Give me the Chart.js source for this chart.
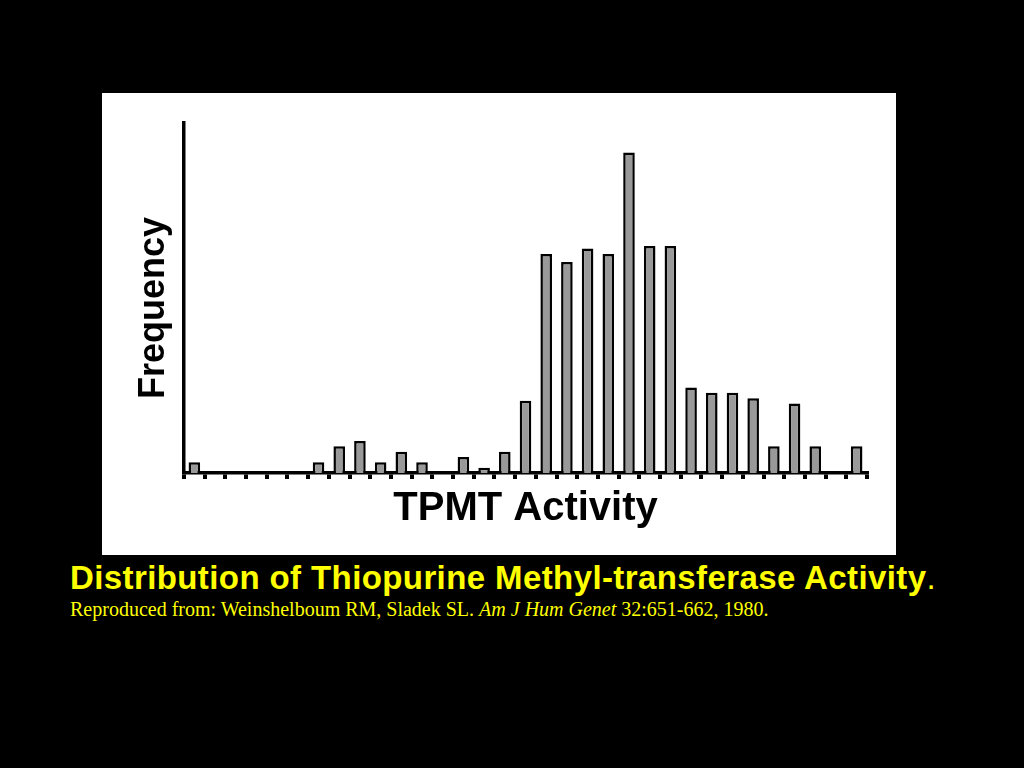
<!DOCTYPE html>
<html>
<head>
<meta charset="utf-8">
<title>TPMT Activity</title>
<script src="https://cdn.jsdelivr.net/npm/chart.js@4/dist/chart.umd.min.js"></script>
<style>
  html, body {
    margin: 0;
    padding: 0;
    background: #000;
    width: 1024px;
    height: 768px;
    overflow: hidden;
  }
  #panel {
    position: absolute;
    left: 102px;
    top: 93px;
    width: 794px;
    height: 462px;
    background: #fff;
  }
  #caption {
    position: absolute;
    left: 70px;
    top: 561px;
    color: #ffff00;
    font-family: "Liberation Sans", Arial, sans-serif;
    font-weight: bold;
    font-size: 33px;
    line-height: 33px;
    letter-spacing: 0.4px;
    white-space: nowrap;
  }
  #caption span {
    font-weight: normal;
  }
  #source {
    position: absolute;
    left: 70px;
    top: 599px;
    color: #ffff00;
    font-family: "Liberation Serif", "Times New Roman", serif;
    font-size: 20px;
    line-height: 20px;
    white-space: nowrap;
  }
</style>
</head>
<body>
<div id="panel">
  <canvas id="chart" width="794" height="462"></canvas>
</div>
<div id="caption">Distribution of Thiopurine Methyl-transferase Activity<span>.</span></div>
<div id="source">Reproduced from: Weinshelboum RM, Sladek SL. <i>Am J Hum Genet</i> 32:651-662, 1980.</div>

<script>
// histogram bins (activity classes, low -> high)
const activityBins = [
  "1", "2", "3", "4", "5", "6", "7", "8", "9", "10", "11",
  "12", "13", "14", "15", "16", "17", "18", "19", "20", "21", "22",
  "23", "24", "25", "26", "27", "28", "29", "30", "31", "32", "33"
];

// number of subjects per bin
const frequency = [
  2, 0, 0, 0, 0, 0, 2, 5, 6, 2, 4,
  2, 0, 3, 1, 4, 13.5, 41, 39.5, 42, 41, 60,
  42.5, 42.5, 16, 15, 15, 14, 5, 13, 5, 0, 5
];

const yMax = 65.5;

const ctx = document.getElementById("chart").getContext("2d");

new Chart(ctx, {
  type: "bar",
  data: {
    labels: activityBins,
    datasets: [
      {
        label: "Frequency",
        data: frequency,
        backgroundColor: "#999999",
        borderColor: "#000000",
        borderWidth: 2.5,
        barPercentage: 0.56,
        categoryPercentage: 1.0,
      },
    ],
  },
  options: {
    responsive: false,
    animation: false,
    layout: {
      padding: { left: 0, right: 29, top: 30, bottom: 0 },
    },
    plugins: {
      legend: { display: false },
      tooltip: { enabled: false },
    },
    scales: {
      x: {
        ticks: { display: false },
        grid: {
          display: true,
          drawOnChartArea: false,
          drawTicks: true,
          tickLength: 6,
          lineWidth: 4,
          color: "#000000",
        },
        border: { display: true, color: "#000000", width: 3.5 },
        title: {
          display: true,
          text: "TPMT Activity",
          color: "#000000",
          font: { family: "'Liberation Sans', Arial, sans-serif", size: 40, weight: "bold" },
          padding: { top: 0, bottom: 22 },
        },
        afterFit: (scale) => {
          scale.height = 82;
        },
      },
      y: {
        min: 0,
        max: yMax,
        ticks: { display: false },
        grid: { display: false },
        border: { display: true, color: "#000000", width: 3.5 },
        title: {
          display: true,
          // trailing space nudges the rotated label a bit lower, as in the original
          text: "Frequency  ",
          color: "#000000",
          font: { family: "'Liberation Sans', Arial, sans-serif", size: 36, weight: "bold" },
          padding: { top: 30, bottom: 0 },
        },
        afterFit: (scale) => {
          scale.width = 82;
        },
      },
    },
  },
});
</script>
</body>
</html>
